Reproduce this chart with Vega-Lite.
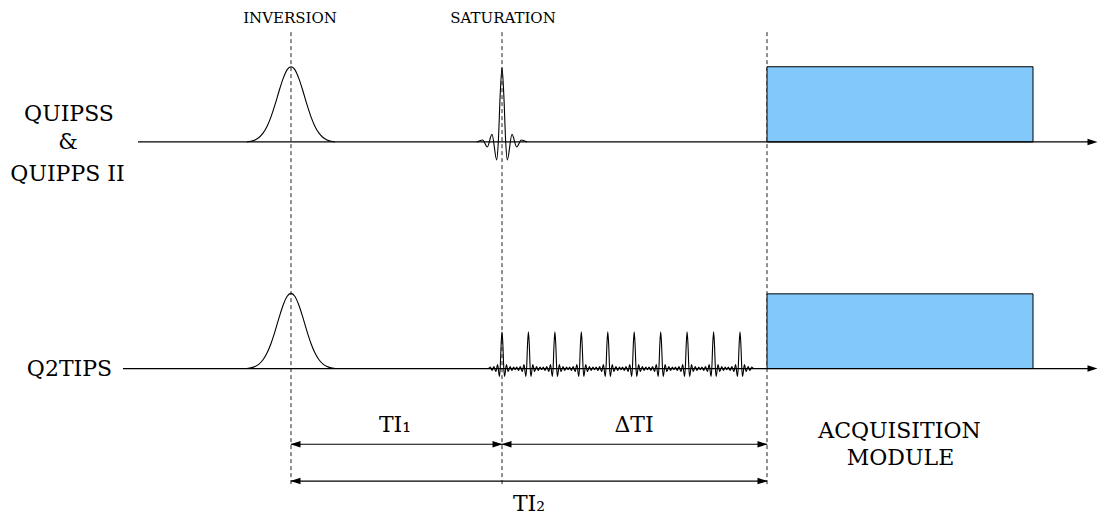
{
  "$schema": "https://vega.github.io/schema/vega-lite/v6.json",
  "width": 1099,
  "height": 515,
  "autosize": {"type": "fit", "contains": "padding"},
  "padding": 0,
  "background": "white",
  "config": {"view": {"stroke": null}},
  "datasets": {
    "vlines": [
      {"t": 291, "y0": 29, "y1": 484},
      {"t": 502, "y0": 29, "y1": 484},
      {"t": 767, "y0": 29, "y1": 484}
    ],
    "modules": [
      {"t0": 767, "t1": 1033, "v0": 372.5, "v1": 448},
      {"t0": 767, "t1": 1033, "v0": 145, "v1": 220}
    ],
    "axes": [
      {"t0": 138, "t1": 1092, "v": 372.5},
      {"t0": 123, "t1": 1092, "v": 145}
    ],
    "dims": [
      {"t0": 291, "t1": 502, "v": 69},
      {"t0": 502, "t1": 767, "v": 69},
      {"t0": 291, "t1": 767, "v": 32}
    ],
    "headsR": [
      {"t": 1092.5, "v": 372.5},
      {"t": 1092.5, "v": 145},
      {"t": 497.5, "v": 69},
      {"t": 762.5, "v": 69},
      {"t": 762.5, "v": 32}
    ],
    "headsL": [
      {"t": 295.5, "v": 69},
      {"t": 506.5, "v": 69},
      {"t": 295.5, "v": 32}
    ],
    "labels": [
      {"t": 69, "v": 394, "txt": "QUIPSS"},
      {"t": 68, "v": 365, "txt": "&"},
      {"t": 67.5, "v": 333, "txt": "QUIPPS II"},
      {"t": 69.5, "v": 138, "txt": "Q2TIPS"},
      {"t": 899.5, "v": 75, "txt": "ACQUISITION"},
      {"t": 900.5, "v": 48, "txt": "MODULE"},
      {"t": 395, "v": 81, "txt": "TI₁"},
      {"t": 634, "v": 81, "txt": "ΔTI"},
      {"t": 529, "v": 2, "txt": "TI₂"}
    ],
    "smalls": [
      {"t": 290, "v": 492, "txt": "INVERSION"},
      {"t": 503, "v": 492, "txt": "SATURATION"}
    ],
    "pulses": [
      {"s": "g1", "t": 247, "v": 372.5}, {"s": "g1", "t": 251, "v": 373.2}, {"s": "g1", "t": 255, "v": 374.5}, {"s": "g1", "t": 259, "v": 377.0},
      {"s": "g1", "t": 263, "v": 381.3}, {"s": "g1", "t": 267, "v": 388.1}, {"s": "g1", "t": 271, "v": 397.7}, {"s": "g1", "t": 275, "v": 409.9},
      {"s": "g1", "t": 279, "v": 423.4}, {"s": "g1", "t": 283, "v": 435.8}, {"s": "g1", "t": 287, "v": 444.8}, {"s": "g1", "t": 291, "v": 448},
      {"s": "g1", "t": 295, "v": 444.8}, {"s": "g1", "t": 299, "v": 435.8}, {"s": "g1", "t": 303, "v": 423.4}, {"s": "g1", "t": 307, "v": 409.9},
      {"s": "g1", "t": 311, "v": 397.7}, {"s": "g1", "t": 315, "v": 388.1}, {"s": "g1", "t": 319, "v": 381.3}, {"s": "g1", "t": 323, "v": 377.0},
      {"s": "g1", "t": 327, "v": 374.5}, {"s": "g1", "t": 331, "v": 373.2}, {"s": "g1", "t": 335, "v": 372.5},

      {"s": "g2", "t": 247, "v": 145}, {"s": "g2", "t": 251, "v": 145.7}, {"s": "g2", "t": 255, "v": 147.0}, {"s": "g2", "t": 259, "v": 149.5},
      {"s": "g2", "t": 263, "v": 153.8}, {"s": "g2", "t": 267, "v": 160.6}, {"s": "g2", "t": 271, "v": 170.2}, {"s": "g2", "t": 275, "v": 182.4},
      {"s": "g2", "t": 279, "v": 195.9}, {"s": "g2", "t": 283, "v": 208.3}, {"s": "g2", "t": 287, "v": 217.3}, {"s": "g2", "t": 291, "v": 220.5},
      {"s": "g2", "t": 295, "v": 217.3}, {"s": "g2", "t": 299, "v": 208.3}, {"s": "g2", "t": 303, "v": 195.9}, {"s": "g2", "t": 307, "v": 182.4},
      {"s": "g2", "t": 311, "v": 170.2}, {"s": "g2", "t": 315, "v": 160.6}, {"s": "g2", "t": 319, "v": 153.8}, {"s": "g2", "t": 323, "v": 149.5},
      {"s": "g2", "t": 327, "v": 147.0}, {"s": "g2", "t": 331, "v": 145.7}, {"s": "g2", "t": 335, "v": 145},

      {"s": "s1", "t": 477, "v": 372.5}, {"s": "s1", "t": 482.7, "v": 374.5}, {"s": "s1", "t": 487.3, "v": 367.5}, {"s": "s1", "t": 492, "v": 380.1},
      {"s": "s1", "t": 496.7, "v": 354.5}, {"s": "s1", "t": 498.3, "v": 372.5}, {"s": "s1", "t": 500.2, "v": 420}, {"s": "s1", "t": 502, "v": 447},
      {"s": "s1", "t": 503.8, "v": 420}, {"s": "s1", "t": 505.7, "v": 372.5}, {"s": "s1", "t": 507.3, "v": 354.5}, {"s": "s1", "t": 512, "v": 380.1},
      {"s": "s1", "t": 516.7, "v": 367.5}, {"s": "s1", "t": 521.3, "v": 374.5}, {"s": "s1", "t": 527, "v": 372.5},

      {"s": "b", "t": 488.5, "v": 145},
      {"s": "b", "t": 490.3, "v": 146.5}, {"s": "b", "t": 492.1, "v": 143.2}, {"s": "b", "t": 493.9, "v": 147}, {"s": "b", "t": 495.8, "v": 142}, {"s": "b", "t": 497.6, "v": 149}, {"s": "b", "t": 499.4, "v": 137}, {"s": "b", "t": 500.2, "v": 145}, {"s": "b", "t": 501.1, "v": 168.5}, {"s": "b", "t": 502.0, "v": 182}, {"s": "b", "t": 502.9, "v": 168.5}, {"s": "b", "t": 503.8, "v": 145}, {"s": "b", "t": 504.6, "v": 137}, {"s": "b", "t": 506.4, "v": 149}, {"s": "b", "t": 508.2, "v": 142}, {"s": "b", "t": 510.1, "v": 147}, {"s": "b", "t": 511.9, "v": 143.2}, {"s": "b", "t": 513.7, "v": 146.5},
      {"s": "b", "t": 515.2, "v": 143.8},
      {"s": "b", "t": 516.7, "v": 146.5}, {"s": "b", "t": 518.5, "v": 143.2}, {"s": "b", "t": 520.3, "v": 147}, {"s": "b", "t": 522.2, "v": 142}, {"s": "b", "t": 524.0, "v": 149}, {"s": "b", "t": 525.8, "v": 137}, {"s": "b", "t": 526.6, "v": 145}, {"s": "b", "t": 527.5, "v": 168.5}, {"s": "b", "t": 528.4, "v": 182}, {"s": "b", "t": 529.3, "v": 168.5}, {"s": "b", "t": 530.2, "v": 145}, {"s": "b", "t": 531.0, "v": 137}, {"s": "b", "t": 532.8, "v": 149}, {"s": "b", "t": 534.6, "v": 142}, {"s": "b", "t": 536.5, "v": 147}, {"s": "b", "t": 538.3, "v": 143.2}, {"s": "b", "t": 540.1, "v": 146.5},
      {"s": "b", "t": 541.6, "v": 143.8},
      {"s": "b", "t": 543.2, "v": 146.5}, {"s": "b", "t": 545.0, "v": 143.2}, {"s": "b", "t": 546.8, "v": 147}, {"s": "b", "t": 548.7, "v": 142}, {"s": "b", "t": 550.5, "v": 149}, {"s": "b", "t": 552.3, "v": 137}, {"s": "b", "t": 553.1, "v": 145}, {"s": "b", "t": 554.0, "v": 168.5}, {"s": "b", "t": 554.9, "v": 182}, {"s": "b", "t": 555.8, "v": 168.5}, {"s": "b", "t": 556.7, "v": 145}, {"s": "b", "t": 557.5, "v": 137}, {"s": "b", "t": 559.3, "v": 149}, {"s": "b", "t": 561.1, "v": 142}, {"s": "b", "t": 563.0, "v": 147}, {"s": "b", "t": 564.8, "v": 143.2}, {"s": "b", "t": 566.6, "v": 146.5},
      {"s": "b", "t": 568.1, "v": 143.8},
      {"s": "b", "t": 569.6, "v": 146.5}, {"s": "b", "t": 571.4, "v": 143.2}, {"s": "b", "t": 573.2, "v": 147}, {"s": "b", "t": 575.1, "v": 142}, {"s": "b", "t": 576.9, "v": 149}, {"s": "b", "t": 578.7, "v": 137}, {"s": "b", "t": 579.5, "v": 145}, {"s": "b", "t": 580.4, "v": 168.5}, {"s": "b", "t": 581.3, "v": 182}, {"s": "b", "t": 582.2, "v": 168.5}, {"s": "b", "t": 583.1, "v": 145}, {"s": "b", "t": 583.9, "v": 137}, {"s": "b", "t": 585.7, "v": 149}, {"s": "b", "t": 587.5, "v": 142}, {"s": "b", "t": 589.4, "v": 147}, {"s": "b", "t": 591.2, "v": 143.2}, {"s": "b", "t": 593.0, "v": 146.5},
      {"s": "b", "t": 594.5, "v": 143.8},
      {"s": "b", "t": 596.1, "v": 146.5}, {"s": "b", "t": 597.9, "v": 143.2}, {"s": "b", "t": 599.7, "v": 147}, {"s": "b", "t": 601.6, "v": 142}, {"s": "b", "t": 603.4, "v": 149}, {"s": "b", "t": 605.2, "v": 137}, {"s": "b", "t": 606.0, "v": 145}, {"s": "b", "t": 606.9, "v": 168.5}, {"s": "b", "t": 607.8, "v": 182}, {"s": "b", "t": 608.7, "v": 168.5}, {"s": "b", "t": 609.6, "v": 145}, {"s": "b", "t": 610.4, "v": 137}, {"s": "b", "t": 612.2, "v": 149}, {"s": "b", "t": 614.0, "v": 142}, {"s": "b", "t": 615.9, "v": 147}, {"s": "b", "t": 617.7, "v": 143.2}, {"s": "b", "t": 619.5, "v": 146.5},
      {"s": "b", "t": 621.0, "v": 143.8},
      {"s": "b", "t": 622.5, "v": 146.5}, {"s": "b", "t": 624.3, "v": 143.2}, {"s": "b", "t": 626.1, "v": 147}, {"s": "b", "t": 628.0, "v": 142}, {"s": "b", "t": 629.8, "v": 149}, {"s": "b", "t": 631.6, "v": 137}, {"s": "b", "t": 632.4, "v": 145}, {"s": "b", "t": 633.3, "v": 168.5}, {"s": "b", "t": 634.2, "v": 182}, {"s": "b", "t": 635.1, "v": 168.5}, {"s": "b", "t": 636.0, "v": 145}, {"s": "b", "t": 636.8, "v": 137}, {"s": "b", "t": 638.6, "v": 149}, {"s": "b", "t": 640.4, "v": 142}, {"s": "b", "t": 642.3, "v": 147}, {"s": "b", "t": 644.1, "v": 143.2}, {"s": "b", "t": 645.9, "v": 146.5},
      {"s": "b", "t": 647.4, "v": 143.8},
      {"s": "b", "t": 649.0, "v": 146.5}, {"s": "b", "t": 650.8, "v": 143.2}, {"s": "b", "t": 652.6, "v": 147}, {"s": "b", "t": 654.5, "v": 142}, {"s": "b", "t": 656.3, "v": 149}, {"s": "b", "t": 658.1, "v": 137}, {"s": "b", "t": 658.9, "v": 145}, {"s": "b", "t": 659.8, "v": 168.5}, {"s": "b", "t": 660.7, "v": 182}, {"s": "b", "t": 661.6, "v": 168.5}, {"s": "b", "t": 662.5, "v": 145}, {"s": "b", "t": 663.3, "v": 137}, {"s": "b", "t": 665.1, "v": 149}, {"s": "b", "t": 666.9, "v": 142}, {"s": "b", "t": 668.8, "v": 147}, {"s": "b", "t": 670.6, "v": 143.2}, {"s": "b", "t": 672.4, "v": 146.5},
      {"s": "b", "t": 673.9, "v": 143.8},
      {"s": "b", "t": 675.4, "v": 146.5}, {"s": "b", "t": 677.2, "v": 143.2}, {"s": "b", "t": 679.0, "v": 147}, {"s": "b", "t": 680.9, "v": 142}, {"s": "b", "t": 682.7, "v": 149}, {"s": "b", "t": 684.5, "v": 137}, {"s": "b", "t": 685.3, "v": 145}, {"s": "b", "t": 686.2, "v": 168.5}, {"s": "b", "t": 687.1, "v": 182}, {"s": "b", "t": 688.0, "v": 168.5}, {"s": "b", "t": 688.9, "v": 145}, {"s": "b", "t": 689.7, "v": 137}, {"s": "b", "t": 691.5, "v": 149}, {"s": "b", "t": 693.3, "v": 142}, {"s": "b", "t": 695.2, "v": 147}, {"s": "b", "t": 697.0, "v": 143.2}, {"s": "b", "t": 698.8, "v": 146.5},
      {"s": "b", "t": 700.3, "v": 143.8},
      {"s": "b", "t": 701.9, "v": 146.5}, {"s": "b", "t": 703.7, "v": 143.2}, {"s": "b", "t": 705.5, "v": 147}, {"s": "b", "t": 707.4, "v": 142}, {"s": "b", "t": 709.2, "v": 149}, {"s": "b", "t": 711.0, "v": 137}, {"s": "b", "t": 711.8, "v": 145}, {"s": "b", "t": 712.7, "v": 168.5}, {"s": "b", "t": 713.6, "v": 182}, {"s": "b", "t": 714.5, "v": 168.5}, {"s": "b", "t": 715.4, "v": 145}, {"s": "b", "t": 716.2, "v": 137}, {"s": "b", "t": 718.0, "v": 149}, {"s": "b", "t": 719.8, "v": 142}, {"s": "b", "t": 721.7, "v": 147}, {"s": "b", "t": 723.5, "v": 143.2}, {"s": "b", "t": 725.3, "v": 146.5},
      {"s": "b", "t": 726.8, "v": 143.8},
      {"s": "b", "t": 728.3, "v": 146.5}, {"s": "b", "t": 730.1, "v": 143.2}, {"s": "b", "t": 731.9, "v": 147}, {"s": "b", "t": 733.8, "v": 142}, {"s": "b", "t": 735.6, "v": 149}, {"s": "b", "t": 737.4, "v": 137}, {"s": "b", "t": 738.2, "v": 145}, {"s": "b", "t": 739.1, "v": 168.5}, {"s": "b", "t": 740.0, "v": 182}, {"s": "b", "t": 740.9, "v": 168.5}, {"s": "b", "t": 741.8, "v": 145}, {"s": "b", "t": 742.6, "v": 137}, {"s": "b", "t": 744.4, "v": 149}, {"s": "b", "t": 746.2, "v": 142}, {"s": "b", "t": 748.1, "v": 147}, {"s": "b", "t": 749.9, "v": 143.2}, {"s": "b", "t": 751.7, "v": 146.5},
      {"s": "b", "t": 753.5, "v": 145}
    ]
  },
  "layer": [
    {
      "data": {"name": "vlines"},
      "mark": {"type": "rule", "strokeDash": [4, 3], "strokeWidth": 1, "color": "#222222"},
      "encoding": {
        "x": {"field": "t", "type": "quantitative", "scale": {"domain": [0, 1099], "nice": false, "zero": false}, "axis": null},
        "y": {"field": "y0", "type": "quantitative", "scale": {"domain": [0, 515], "nice": false, "zero": false}, "axis": null},
        "y2": {"field": "y1"}
      }
    },
    {
      "data": {"name": "modules"},
      "mark": {"type": "rect", "fill": "#82C8FA", "stroke": "black", "strokeWidth": 1},
      "encoding": {
        "x": {"field": "t0", "type": "quantitative", "scale": {"domain": [0, 1099], "nice": false, "zero": false}, "axis": null},
        "x2": {"field": "t1"},
        "y": {"field": "v0", "type": "quantitative", "scale": {"domain": [0, 515], "nice": false, "zero": false}, "axis": null},
        "y2": {"field": "v1"}
      }
    },
    {
      "data": {"name": "axes"},
      "mark": {"type": "rule", "strokeWidth": 1.2, "color": "black"},
      "encoding": {
        "x": {"field": "t0", "type": "quantitative", "scale": {"domain": [0, 1099], "nice": false, "zero": false}, "axis": null},
        "x2": {"field": "t1"},
        "y": {"field": "v", "type": "quantitative", "scale": {"domain": [0, 515], "nice": false, "zero": false}, "axis": null}
      }
    },
    {
      "data": {"name": "pulses"},
      "mark": {"type": "line", "interpolate": "monotone", "strokeWidth": 1.1, "color": "black"},
      "encoding": {
        "x": {"field": "t", "type": "quantitative", "scale": {"domain": [0, 1099], "nice": false, "zero": false}, "axis": null},
        "y": {"field": "v", "type": "quantitative", "scale": {"domain": [0, 515], "nice": false, "zero": false}, "axis": null},
        "detail": {"field": "s", "type": "nominal"}
      }
    },
    {
      "data": {"name": "dims"},
      "mark": {"type": "rule", "strokeWidth": 1.1, "color": "black"},
      "encoding": {
        "x": {"field": "t0", "type": "quantitative", "scale": {"domain": [0, 1099], "nice": false, "zero": false}, "axis": null},
        "x2": {"field": "t1"},
        "y": {"field": "v", "type": "quantitative", "scale": {"domain": [0, 515], "nice": false, "zero": false}, "axis": null}
      }
    },
    {
      "data": {"name": "headsR"},
      "mark": {"type": "point", "shape": "M1,0L-1,-0.65L-1,0.65Z", "size": 100, "filled": true, "color": "black", "opacity": 1, "strokeWidth": 0},
      "encoding": {
        "x": {"field": "t", "type": "quantitative", "scale": {"domain": [0, 1099], "nice": false, "zero": false}, "axis": null},
        "y": {"field": "v", "type": "quantitative", "scale": {"domain": [0, 515], "nice": false, "zero": false}, "axis": null}
      }
    },
    {
      "data": {"name": "headsL"},
      "mark": {"type": "point", "shape": "M-1,0L1,-0.65L1,0.65Z", "size": 100, "filled": true, "color": "black", "opacity": 1, "strokeWidth": 0},
      "encoding": {
        "x": {"field": "t", "type": "quantitative", "scale": {"domain": [0, 1099], "nice": false, "zero": false}, "axis": null},
        "y": {"field": "v", "type": "quantitative", "scale": {"domain": [0, 515], "nice": false, "zero": false}, "axis": null}
      }
    },
    {
      "data": {"name": "labels"},
      "mark": {"type": "text", "font": "DejaVu Serif", "fontSize": 22, "align": "center", "baseline": "alphabetic", "color": "black"},
      "encoding": {
        "x": {"field": "t", "type": "quantitative", "scale": {"domain": [0, 1099], "nice": false, "zero": false}, "axis": null},
        "y": {"field": "v", "type": "quantitative", "scale": {"domain": [0, 515], "nice": false, "zero": false}, "axis": null},
        "text": {"field": "txt", "type": "nominal"}
      }
    },
    {
      "data": {"name": "smalls"},
      "mark": {"type": "text", "font": "DejaVu Serif", "fontSize": 15, "align": "center", "baseline": "alphabetic", "color": "black"},
      "encoding": {
        "x": {"field": "t", "type": "quantitative", "scale": {"domain": [0, 1099], "nice": false, "zero": false}, "axis": null},
        "y": {"field": "v", "type": "quantitative", "scale": {"domain": [0, 515], "nice": false, "zero": false}, "axis": null},
        "text": {"field": "txt", "type": "nominal"}
      }
    }
  ]
}
